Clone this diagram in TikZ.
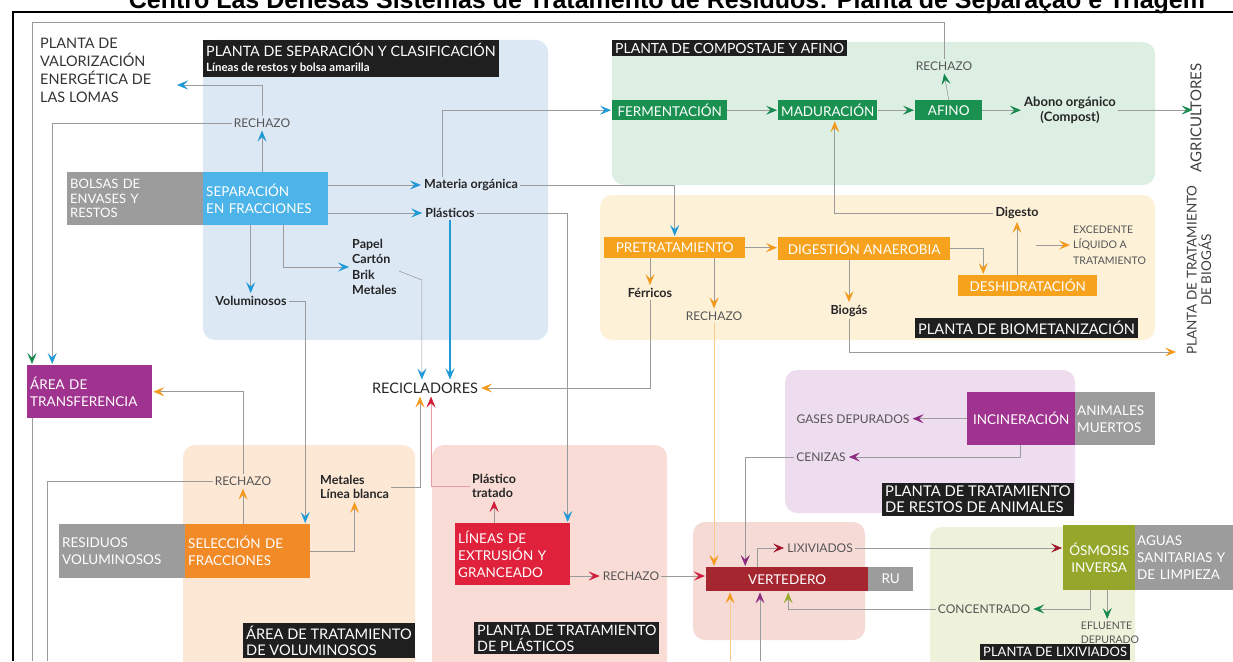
\documentclass[tikz,border=0pt]{standalone}
\usepackage{fontspec}
\setmainfont{Lato}
\newfontfamily\titlefont{Liberation Sans}
\usetikzlibrary{arrows.meta,positioning}

\definecolor{zblue}{HTML}{DDE8F5}
\definecolor{zgreen}{HTML}{DCEFE2}
\definecolor{zyellow}{HTML}{FDF1D8}
\definecolor{zpurple}{HTML}{EEDDEF}
\definecolor{zorange}{HTML}{FDE8D6}
\definecolor{zpink}{HTML}{F9DCD6}
\definecolor{zrose}{HTML}{F6DAD5}
\definecolor{zlime}{HTML}{EFF2DA}
\definecolor{boxgray}{HTML}{9C9C9C}
\definecolor{sepblue}{HTML}{4DB4EA}
\definecolor{compgreen}{HTML}{1A9150}
\definecolor{bioorange}{HTML}{F6A21D}
\definecolor{selorange}{HTML}{F18A27}
\definecolor{transfpurple}{HTML}{A0338F}
\definecolor{extrred}{HTML}{E0213B}
\definecolor{vertred}{HTML}{A62630}
\definecolor{osmoolive}{HTML}{94A72B}
\definecolor{capgray}{HTML}{555555}
\definecolor{linegray}{HTML}{9B9B9B}
\definecolor{tipblue}{HTML}{1F9AD6}
\definecolor{tipgreen}{HTML}{17894E}
\definecolor{tiporange}{HTML}{F39A1E}
\definecolor{tipred}{HTML}{D01D3A}
\definecolor{tipdark}{HTML}{A0172D}
\definecolor{tippurple}{HTML}{8B2A7E}
\definecolor{tipolive}{HTML}{9AAA2C}

\begin{document}
\begin{tikzpicture}[x=1pt,y=-1pt,
  color box/.style={fill=#1,text=white,anchor=north west,inner xsep=3pt,inner ysep=0pt,
    align=left,font=\fontsize{13.5}{17}\selectfont},
  dark label/.style={fill=black!88,text=white,anchor=north west,inner xsep=3pt,inner ysep=3pt,
    align=left,font=\fontsize{14}{15.5}\selectfont},
  gray caps/.style={text=capgray,inner sep=2pt,align=left,font=\fontsize{12}{14}\selectfont},
  plain text/.style={text=black!85,inner sep=2pt,align=left,font=\bfseries\fontsize{12.5}{15}\selectfont},
  zone/.style={fill=#1,rounded corners=12pt},
  flow/.style={draw=linegray,line width=0.6pt,shorten >=1pt,
    -{Stealth[length=11pt,width=9pt,inset=4.5pt,color=#1]}},
  plain line/.style={draw=linegray,line width=0.6pt}]

  \useasboundingbox (0,0) rectangle (1233,661);

  \node[font=\titlefont\bfseries\fontsize{25}{25}\selectfont,anchor=base] (title) at (667,9)
    {Centro Las Dehesas Sistemas de Tratamento de Resíduos: Planta de Separação e Triagem};
  \draw[line width=1.6pt] (13,661) -- (13,12) -- (1233,12);

  \path[zone=zblue] (203,40) rectangle (548,340);
  \path[zone=zgreen] (612,42) rectangle (1155,185);
  \path[zone=zyellow] (600,195) rectangle (1155,340);
  \path[zone=zpurple] (785,370) rectangle (1075,513);
  \path[zone=zorange] (183,445) rectangle (415,675);
  \path[zone=zpink] (432,445) rectangle (667,675);
  \path[zone=zrose] (693,522) rectangle (865,640);
  \path[zone=zlime] (930,527) rectangle (1135,675);

  \node[color box=boxgray,text width=130pt,minimum height=53pt,font=\fontsize{13}{14.5}\selectfont] (bolsas) at (67,172) {BOLSAS DE\\ENVASES Y\\RESTOS};
  \node[color box=sepblue,text width=119pt,minimum height=53pt] (sep) at (203,172) {SEPARACIÓN\\EN FRACCIONES};
  \node[color box=transfpurple,text width=119pt,minimum height=53pt] (transf) at (27,365) {ÁREA DE\\TRANSFERENCIA};
  \node[color box=boxgray,text width=120pt,minimum height=54pt] (resid) at (59,524) {RESIDUOS\\VOLUMINOSOS};
  \node[color box=selorange,text width=119pt,minimum height=54pt] (selec) at (185,524) {SELECCIÓN DE\\FRACCIONES};
  \node[color box=extrred,text width=109pt,minimum height=62pt] (extr) at (455,523) {LÍNEAS DE\\EXTRUSIÓN~Y\\GRANCEADO};
  \node[color box=compgreen,minimum width=115pt,minimum height=20pt] (ferm) at (612,100) {FERMENTACIÓN};
  \node[color box=compgreen,minimum width=84pt,minimum height=20pt] (madur) at (778,100) {MADURACIÓN};
  \node[color box=compgreen,minimum width=67pt,minimum height=20pt] (afino) at (915,100) {AFINO};
  \node[color box=bioorange,minimum width=141pt,minimum height=21pt] (pretr) at (604,237) {PRETRATAMIENTO};
  \node[color box=bioorange,minimum width=172pt,minimum height=23pt] (digest) at (778,237) {DIGESTIÓN ANAEROBIA};
  \node[color box=bioorange,minimum width=139pt,minimum height=21pt] (deshid) at (958,275) {DESHIDRATACIÓN};
  \node[color box=transfpurple,minimum width=108pt,minimum height=53pt,inner xsep=1pt] (incin) at (967,392) {INCINERACIÓN};
  \node[color box=boxgray,text width=76pt,minimum height=53pt,inner xsep=2pt] (anim) at (1075,392) {ANIMALES\\MUERTOS};
  \node[color box=vertred,minimum width=162pt,minimum height=24pt] (vert) at (706,567) {VERTEDERO};
  \node[color box=boxgray,minimum width=45pt,minimum height=24pt,align=center] (ru) at (868,567) {RU};
  \node[color box=osmoolive,minimum width=72pt,minimum height=65pt,align=center] (osmo) at (1063,525) {ÓSMOSIS\\INVERSA};
  \node[color box=boxgray,text width=96pt,minimum height=65pt,inner xsep=2pt] (aguas) at (1135,525) {AGUAS\\SANITARIAS~Y\\DE LIMPIEZA};

  \node[dark label,font=\fontsize{14.3}{15.5}\selectfont] (seplab) at (203,40) {PLANTA DE SEPARACIÓN Y CLASIFICACIÓN\\{\bfseries\fontsize{11.5}{13}\selectfont Líneas de restos y bolsa amarilla}};
  \node[dark label] (complab) at (612,40) {PLANTA DE COMPOSTAJE Y AFINO};
  \node[dark label,font=\fontsize{14.6}{16}\selectfont] (biolab) at (915,318) {PLANTA DE BIOMETANIZACIÓN};
  \node[dark label,font=\fontsize{14.8}{15.5}\selectfont] (animlab) at (882,483) {PLANTA DE TRATAMIENTO\\DE RESTOS DE ANIMALES};
  \node[dark label,font=\fontsize{14.6}{15.5}\selectfont] (vollab) at (243,623) {ÁREA DE TRATAMIENTO\\DE VOLUMINOSOS};
  \node[dark label,font=\fontsize{14.3}{15.5}\selectfont] (plalab) at (474,622) {PLANTA DE TRATAMIENTO\\DE PLÁSTICOS};
  \node[dark label,font=\fontsize{13}{15}\selectfont] (lixlab) at (980,644) {PLANTA DE LIXIVIADOS};

  \node[gray caps,text=black!80,anchor=north west,font=\fontsize{14.5}{18}\selectfont] (valor) at (38,36) {PLANTA DE\\VALORIZACIÓN\\ENERGÉTICA DE\\LAS LOMAS};
  \node[gray caps] (rech1) at (262,123) {RECHAZO};
  \node[plain text] (matorg) at (471,185) {Materia orgánica};
  \node[plain text] (plast) at (450,213) {Plásticos};
  \node[plain text,anchor=west,font=\bfseries\fontsize{12.5}{15.3}\selectfont] (papel) at (350,267) {Papel\\Cartón\\Brik\\Metales};
  \node[plain text] (volum) at (251,301) {Voluminosos};
  \node[plain text,font=\fontsize{14.5}{16}\selectfont] (recic) at (425,388) {RECICLADORES};
  \node[gray caps] (rech2) at (243,481) {RECHAZO};
  \node[plain text,anchor=west,font=\bfseries\fontsize{12.5}{14}\selectfont] (metal) at (318,487) {Metales\\Línea blanca};
  \node[plain text,anchor=west,font=\bfseries\fontsize{12.5}{14}\selectfont] (ptrat) at (470,486) {Plástico\\tratado};
  \node[gray caps] (rech3) at (631,576) {RECHAZO};
  \node[gray caps] (rech4) at (944,66) {RECHAZO};
  \node[plain text,align=center,font=\bfseries\fontsize{13}{15}\selectfont] (abono) at (1070,110) {Abono orgánico\\(Compost)};
  \node[gray caps,text=black!75,rotate=90,font=\fontsize{15}{16}\selectfont] (agric) at (1196,118) {AGRICULTORES};
  \node[gray caps,text=black!75,rotate=90,align=center,font=\fontsize{13.5}{14.5}\selectfont] (biogplant) at (1199,270) {PLANTA DE TRATAMIENTO\\DE BIOGÁS};
  \node[plain text] (ferr) at (650,293) {Férricos};
  \node[gray caps] (rech5) at (714,316) {RECHAZO};
  \node[plain text] (biogas) at (849,311) {Biogás};
  \node[plain text] (digesto) at (1017,213) {Digesto};
  \node[gray caps,anchor=west,font=\fontsize{10.5}{15.5}\selectfont] (exced) at (1071,245) {EXCEDENTE\\LÍQUIDO A\\TRATAMIENTO};
  \node[gray caps] (gases) at (853,419) {GASES DEPURADOS};
  \node[gray caps] (ceniz) at (821,457) {CENIZAS};
  \node[gray caps] (lixi) at (820,548) {LIXIVIADOS};
  \node[gray caps] (conc) at (984,609) {CONCENTRADO};
  \node[gray caps,font=\fontsize{10.5}{14}\selectfont] (eflu) at (1110,633) {EFLUENTE\\DEPURADO};

  \coordinate (valorin) at (176,85);
  \coordinate (topturn) at (32,22);
  \coordinate (exitA) at (32,661);
  \coordinate (exitB) at (47,661);
  \coordinate (fromA) at (730,661);
  \coordinate (fromB) at (760,661);
  \coordinate (biogasin) at (1177,352);

  \draw[flow=tipblue] (sep.north -| rech1) -- (rech1.south);
  \draw[flow=tipblue] (rech1.north) |- (valorin);
  \draw[flow=tipblue] (rech1.west) -| ([xshift=-37.5pt]transf.north);
  \draw[flow=tipblue] ([xshift=-15pt]sep.south) -- ([xshift=-15pt]sep.south |- volum.north);
  \draw[flow=tipblue] ([xshift=18pt]sep.south) |- (papel.west);
  \draw[flow=tipblue] (matorg -| sep.east) -- (matorg.west);
  \draw[flow=tipblue] (plast -| sep.east) -- (plast.west);
  \draw[flow=tipblue] ([xshift=-29pt]matorg.north) |- (ferm.west);
  \draw[flow=tipblue] (matorg.east) -| (pretr.north);
  \draw[flow=tipblue] (plast.east) -| ([xshift=55pt]extr.north);
  \draw[flow=tipblue,draw=tipblue,line width=1.5pt] (plast.south) -- (plast.south |- recic.north);
  \draw[flow=tipblue] ([yshift=-4pt]papel.east) -- ++(23,9) coordinate (papelturn) -- (papelturn |- recic.north);
  \draw[flow=tipblue] (volum.east) -| ([xshift=57.5pt]selec.north);

  \draw[flow=tiporange] (selec.north -| rech2) -- (rech2.south);
  \draw[flow=tiporange] (rech2.north) |- (transf.east);
  \draw[plain line] (rech2.west) -| (exitB);
  \draw[plain line] (transf.south -| exitA) -- (exitA);
  \draw[flow=tiporange] (selec.east) -| (metal.south);
  \draw[flow=tiporange] (metal.east) -| ([xshift=-5pt]recic.south);
  \draw[flow=tipred,draw=tipred!45] (ptrat.west) -| ([xshift=6pt]recic.south);
  \draw[flow=tipred] (ptrat.south |- extr.north) -- (ptrat.south);
  \draw[flow=tipred] (rech3 -| extr.east) -- (rech3.west);
  \draw[flow=tipred] (rech3.east) -- (rech3 -| vert.west);

  \draw[flow=tiporange] (pretr.south -| ferr) -- (ferr.north);
  \draw[flow=tiporange] (ferr.south) |- (recic.east);
  \draw[flow=tiporange] (pretr.south -| rech5) -- (rech5.north);
  \draw[flow=tiporange,draw=tiporange!50] (rech5.south) -- (rech5 |- vert.north);
  \draw[flow=tiporange] (pretr.east) -- (pretr.east -| digest.west);
  \draw[flow=tiporange] (biogas |- digest.south) -- (biogas.north);
  \draw[flow=tiporange] (biogas.south) |- (biogasin);
  \draw[flow=tiporange] (digest.east) -| ([xshift=-44.5pt]deshid.north);
  \draw[flow=tiporange] (digesto.south |- deshid.north) -- (digesto.south);
  \draw[flow=tiporange] ([xshift=-35pt]exced.west) -- (exced.west);
  \draw[flow=tiporange] (digesto.west) -| ([xshift=7pt]madur.south);

  \draw[flow=tipgreen] (ferm.east) -- (madur.west);
  \draw[flow=tipgreen] (madur.east) -- (afino.west);
  \draw[flow=tipgreen] (afino.east) -- (afino.east -| abono.west);
  \draw[flow=tipgreen,shorten >=11pt] (abono.east) -- (abono.east -| agric.south);
  \draw[flow=tipgreen] (afino.north) -- (rech4.south);
  \draw[flow=tipgreen] (rech4.north) |- (topturn) -- (topturn |- transf.north);

  \draw[flow=tippurple] (incin.west) -- (incin.west -| gases.east);
  \draw[flow=tippurple] ([xshift=-1pt]incin.south) |- (ceniz.east);
  \draw[flow=tippurple] (ceniz.west) -| ([xshift=-42pt]vert.north);
  \draw[flow=tippurple] (fromB) -- (fromB |- vert.south);
  \draw[flow=tiporange,draw=tiporange!50] (fromA) -- (fromA |- vert.south);

  \draw[flow=tipdark] ([xshift=-30pt]vert.north) |- (lixi.west);
  \draw[flow=tipdark] (lixi.east) -- (lixi -| osmo.west);
  \draw[flow=tipgreen] ([xshift=-9pt]osmo.south) |- (conc.east);
  \draw[flow=tipolive] (conc.west) -| ([xshift=1pt]vert.south);
  \draw[flow=tipgreen] ([xshift=8pt]osmo.south) -- ([xshift=8pt]osmo.south |- eflu.north);
\end{tikzpicture}
\end{document}
